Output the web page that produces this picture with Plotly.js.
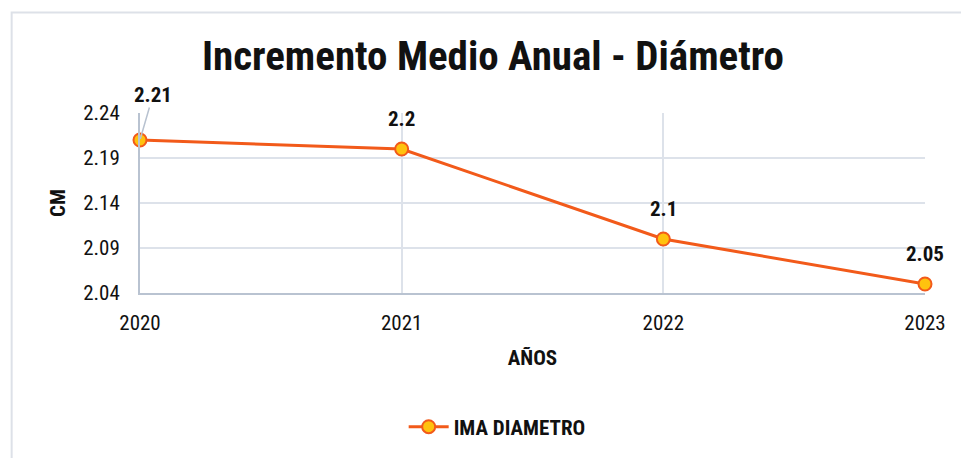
<!DOCTYPE html>
<html>
<head>
<meta charset="utf-8">
<script src="https://cdn.plot.ly/plotly-3.0.1.min.js"></script>
<style>
  html, body { margin: 0; padding: 0; background: #ffffff; }
  #chart { width: 961px; height: 458px; }
</style>
</head>
<body>
<div id="chart"></div>
<script>
// Annual mean diameter increment by year
const years = ['2020', '2021', '2022', '2023'];
const imaDiametro = [2.21, 2.2, 2.1, 2.05];
const labels = ['2.21', '2.2', '2.1', '2.05'];
const yTicks = [2.04, 2.09, 2.14, 2.19, 2.24];

const FONT = '"Liberation Sans Narrow", "Arial Narrow", "Roboto Condensed", "Liberation Sans", sans-serif';
const LINE = '#f25a1a';
const FILL = '#ffc20e';
const GRID = '#dde2ea';

const trace = {
  x: years,
  y: imaDiametro,
  type: 'scatter',
  mode: 'lines+markers',
  name: '<b>IMA DIAMETRO</b>',
  line: { color: LINE, width: 3 },
  marker: { size: 13, color: FILL, line: { color: LINE, width: 2 } },
  cliponaxis: false,
  hoverinfo: 'none'
};

// Value labels (category axis: positioned by category index);
// the first one sits off to the side with a leader line
const annotations = years.map((yr, i) => {
  const base = {
    x: i, y: imaDiametro[i], xref: 'x', yref: 'y',
    text: '<b>' + labels[i] + '</b>',
    font: { family: FONT, size: 21, color: '#111111' }
  };
  if (i === 0) {
    return Object.assign(base, {
      showarrow: true, arrowhead: 0, arrowwidth: 1.5, arrowcolor: '#b8c2d0',
      ax: 13, ay: -45, standoff: 1, startstandoff: 0,
      borderpad: 0
    });
  }
  return Object.assign(base, { showarrow: false, yshift: 30 });
});

const layout = {
  width: 961,
  height: 458,
  margin: { l: 140, r: 36, t: 113, b: 164 },
  paper_bgcolor: '#ffffff',
  plot_bgcolor: '#ffffff',
  font: { family: FONT, color: '#111111' },
  title: {
    text: '<b>Incremento Medio Anual - Diámetro</b>',
    font: { family: FONT, size: 41, color: '#111111' },
    x: 0.513, xanchor: 'center',
    y: 0.878, yanchor: 'middle'
  },
  xaxis: {
    type: 'category',
    range: [0, 3],
    showgrid: true,
    gridcolor: GRID,
    gridwidth: 2,
    showline: true,
    linecolor: '#b9c3d1',
    linewidth: 2,
    zeroline: false,
    ticks: '',
    tickfont: { family: FONT, size: 21, color: '#111111' },
    ticklabelstandoff: 10,
    title: {
      text: '<b>AÑOS</b>',
      font: { family: FONT, size: 21, color: '#111111' },
      standoff: 16
    }
  },
  yaxis: {
    range: [2.04, 2.24],
    tickvals: yTicks,
    ticktext: yTicks.map(v => v.toFixed(2)),
    showgrid: true,
    gridcolor: GRID,
    gridwidth: 2,
    showline: true,
    linecolor: '#b9c3d1',
    linewidth: 2,
    zeroline: false,
    ticks: '',
    tickfont: { family: FONT, size: 21, color: '#111111' },
    ticklabelstandoff: 14,
    title: {
      text: '<b>CM</b>',
      font: { family: FONT, size: 21, color: '#111111' },
      standoff: 12
    }
  },
  showlegend: true,
  legend: {
    orientation: 'h',
    x: 0.455, xanchor: 'center',
    y: -0.735, yanchor: 'middle',
    font: { family: FONT, size: 21, color: '#111111' },
    itemwidth: 40
  },
  annotations: annotations,
  shapes: [{
    type: 'rect', xref: 'paper', yref: 'paper',
    x0: -0.1635, x1: 1.2, y0: -1.2, y1: 1.558,
    line: { color: '#dde1e8', width: 2 },
    fillcolor: 'rgba(0,0,0,0)',
    layer: 'below'
  }]
};

Plotly.newPlot('chart', [trace], layout, { displayModeBar: false, staticPlot: true });
</script>
</body>
</html>
